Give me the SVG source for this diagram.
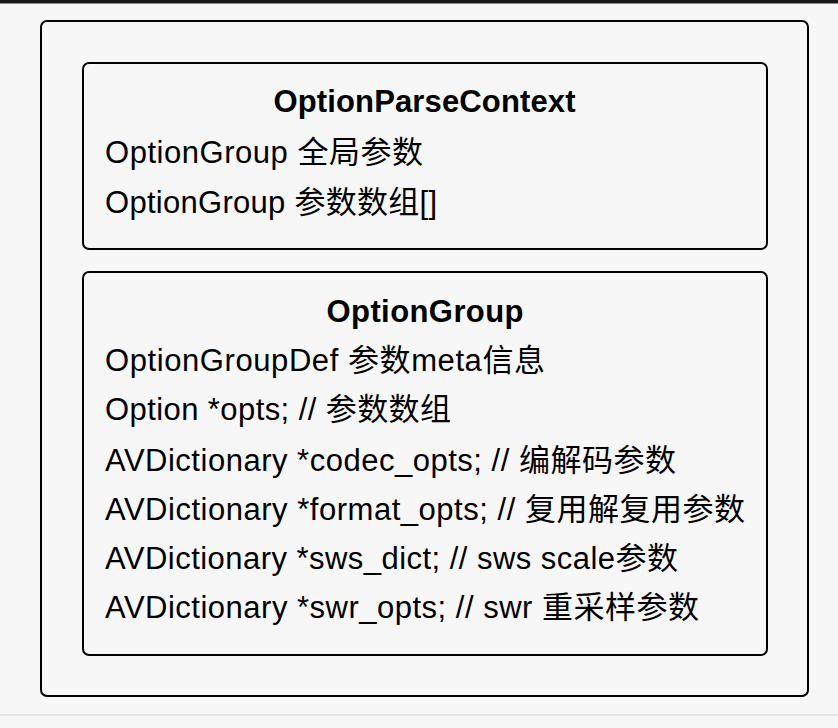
<svg xmlns="http://www.w3.org/2000/svg" width="838" height="728" viewBox="0 0 838 728">
<style>
.box{fill:none;stroke:#000;stroke-width:2}
.t{font-family:"Liberation Sans","Noto Sans CJK SC",sans-serif;font-size:31px;fill:#000}
.h{font-weight:bold;text-anchor:middle}
</style>
<rect x="0" y="0" width="838" height="728" fill="#f7f7f7"/>
<rect x="0" y="0" width="838" height="3.5" fill="#1a1a1a"/>
<rect x="0" y="714" width="838" height="2" fill="#e4e4e4"/>
<g id="container">
<rect class="box" x="41" y="21" width="767" height="675" rx="6"/>
</g>
<g id="OptionParseContext">
<rect class="box" x="83" y="63" width="684" height="186" rx="6"/>
<text class="t h" x="424.5" y="112" textLength="302" lengthAdjust="spacing">OptionParseContext</text>
<text class="t" x="105" y="163" textLength="318" lengthAdjust="spacing">OptionGroup 全局参数</text>
<text class="t" x="105" y="212.5" textLength="332" lengthAdjust="spacing">OptionGroup 参数数组[]</text>
</g>
<g id="OptionGroup">
<rect class="box" x="83" y="272" width="684" height="383" rx="6"/>
<text class="t h" x="425" y="321.5" textLength="197" lengthAdjust="spacing">OptionGroup</text>
<text class="t" x="105" y="370.5" textLength="440" lengthAdjust="spacing">OptionGroupDef 参数meta信息</text>
<text class="t" x="105" y="420" textLength="346" lengthAdjust="spacing">Option *opts; // 参数数组</text>
<text class="t" x="105" y="470.5" textLength="571" lengthAdjust="spacing">AVDictionary *codec_opts; // 编解码参数</text>
<text class="t" x="105" y="520" textLength="640" lengthAdjust="spacing">AVDictionary *format_opts; // 复用解复用参数</text>
<text class="t" x="105" y="568.5" textLength="573" lengthAdjust="spacing">AVDictionary *sws_dict; // sws scale参数</text>
<text class="t" x="105" y="617.5" textLength="594" lengthAdjust="spacing">AVDictionary *swr_opts; // swr 重采样参数</text>
</g>
<g id="connectors"></g>
</svg>
